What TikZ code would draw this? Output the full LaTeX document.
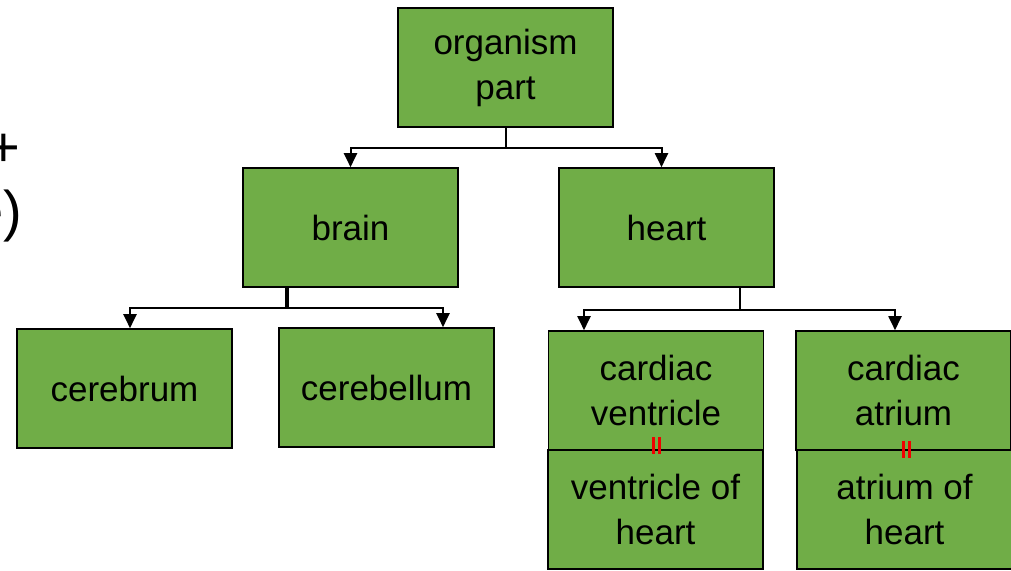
\documentclass[tikz,border=0pt]{standalone}
\usepackage{fontspec}
\setmainfont{Liberation Sans}
\usetikzlibrary{arrows.meta}
\definecolor{boxgreen}{HTML}{70AD47}
\definecolor{eqred}{HTML}{F00000}
\tikzset{
  box/.style={draw=black, line width=1.6pt, fill=boxgreen, minimum width=215pt, minimum height=119pt,
    inner sep=0pt, align=center, font=\fontsize{35}{45}\selectfont},
  conn/.style={draw=black, line width=2pt},
  arr/.style={conn, -{Triangle[width=13pt,length=14pt]}},
  eqmark/.style={draw=eqred, line width=2.6pt},
  sidetext/.style={font=\fontsize{56}{60}\selectfont, inner sep=0pt, anchor=east}
}
\begin{document}
\begin{tikzpicture}[x=1pt,y=-1pt]
\useasboundingbox (0,0) rectangle (1011,570);
\clip (0,0) rectangle (1011,570);
\fill[white] (0,0) rectangle (1011,570);
% partial side text at left edge
\node[sidetext] (plus) at (20,150) {+};
\node[sidetext] (paren) at (22,216) {e)};
% boxes
\node[box] (org) at (505.5,67.5) {organism\\part};
\node[box] (brain) at (350.5,227.5) {brain};
\node[box] (heart) at (666.5,227.5) {heart};
\node[box] (cerebrum) at (124.5,388.5) {cerebrum};
\node[box] (cerebellum) at (386.5,387.5) {cerebellum};
\node[box] (cv) at (656,390.5) {cardiac\\ventricle};
\node[box] (vh) at (655.5,509.5) {ventricle of\\heart};
\node[box] (ca) at (903.5,390.5) {cardiac\\atrium};
\node[box] (ah) at (904.5,509.5) {atrium of\\heart};
% connectors: organism part
\coordinate (j1) at (505.5,148);
\draw[conn] (org.south) -- (j1);
\draw[arr] (j1) -| (brain.north);
\draw[arr] (j1) -| ([xshift=-5pt]heart.north);
% brain
\coordinate (b0) at (287,287);
\coordinate (j2) at (287,308);
\draw[conn, line width=3.5pt] (b0) -- (j2);
\draw[arr] (j2) -| ([xshift=5.5pt]cerebrum.north);
\draw[arr] (j2) -| ([xshift=56.5pt]cerebellum.north);
% heart
\coordinate (h0) at (740,287);
\coordinate (j3) at (740,310);
\draw[conn] (h0) -- (j3);
\draw[arr] (j3) -| ([xshift=-72pt]cv.north);
\draw[arr] (j3) -| ([xshift=-8.5pt]ca.north);
% equivalence marks
\draw[eqmark] (653.3,437) -- (653.3,454);
\draw[eqmark] (659.3,437) -- (659.3,454);
\draw[eqmark] (903.5,440.5) -- (903.5,458);
\draw[eqmark] (909.5,440.5) -- (909.5,458);
\end{tikzpicture}
\end{document}
